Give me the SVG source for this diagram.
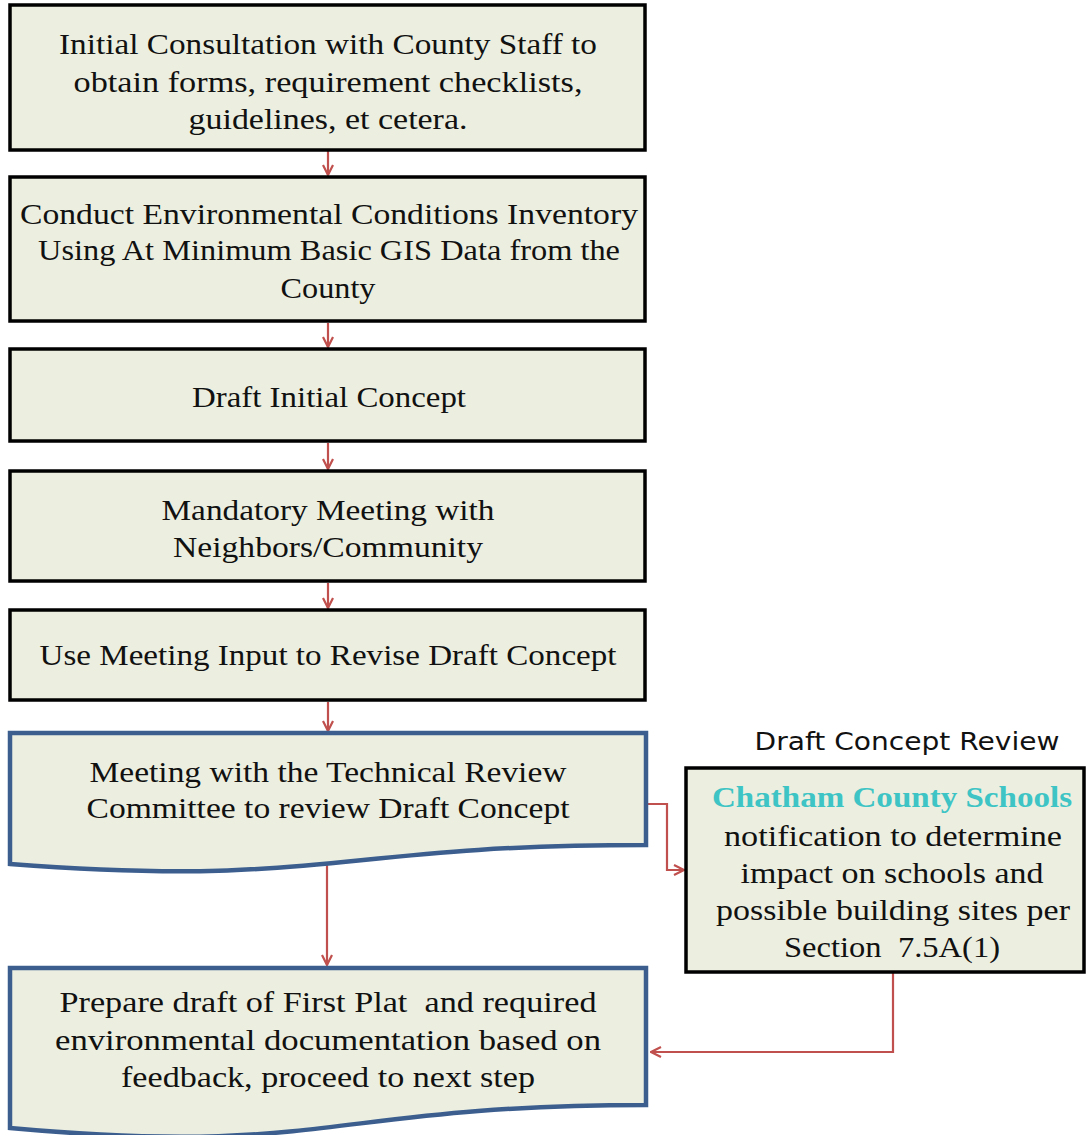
<svg xmlns="http://www.w3.org/2000/svg" width="1089" height="1135" viewBox="0 0 1089 1135">
<defs>
<style>
.box{fill:#ecefe0;stroke:#000;stroke-width:3.5}
.doc{fill:#ecefe0;stroke:#3b5e8f;stroke-width:4.5}
.t{font-family:"Liberation Serif",serif;font-size:30px;fill:#111;text-anchor:middle;white-space:pre}
.s{font-family:"Liberation Serif",serif;font-size:29px;fill:#111;text-anchor:middle;white-space:pre}
.h{font-family:"Liberation Serif",serif;font-size:29px;font-weight:bold;fill:#3ec4c4;text-anchor:middle}
.lbl{font-family:"DejaVu Sans",sans-serif;font-size:24px;fill:#111;text-anchor:middle}
.c{fill:none;stroke:#c0504d;stroke-width:2.2}
</style>
<marker id="ah" viewBox="0 0 12 12" refX="11" refY="6" markerWidth="12" markerHeight="12" markerUnits="userSpaceOnUse" orient="auto">
<path d="M1,1 L11,6 L1,11" fill="none" stroke="#c0504d" stroke-width="2.2"/>
</marker>
</defs>
<rect width="1089" height="1135" fill="#fff"/>
<g id="connectors">
<line class="c" x1="328" y1="151" x2="328" y2="175" marker-end="url(#ah)"/>
<line class="c" x1="328" y1="323" x2="328" y2="347" marker-end="url(#ah)"/>
<line class="c" x1="328" y1="443" x2="328" y2="469" marker-end="url(#ah)"/>
<line class="c" x1="328" y1="583" x2="328" y2="608" marker-end="url(#ah)"/>
<line class="c" x1="328" y1="702" x2="328" y2="731" marker-end="url(#ah)"/>
<line class="c" x1="327" y1="856" x2="327" y2="965" marker-end="url(#ah)"/>
<polyline class="c" points="647,804 667,804 667,870 684,870" marker-end="url(#ah)"/>
<polyline class="c" points="893,973 893,1052 651,1052" marker-end="url(#ah)"/>
</g>
<g id="n1">
<rect class="box" x="10" y="5" width="635" height="145"/>
<text class="t" x="328" y="54" textLength="538" lengthAdjust="spacingAndGlyphs">Initial Consultation with County Staff to</text>
<text class="t" x="328" y="92" textLength="509" lengthAdjust="spacingAndGlyphs">obtain forms, requirement checklists,</text>
<text class="t" x="328" y="129" textLength="279" lengthAdjust="spacingAndGlyphs">guidelines, et cetera.</text>
</g>
<g id="n2">
<rect class="box" x="10" y="177" width="635" height="144"/>
<text class="t" x="329" y="224" textLength="618" lengthAdjust="spacingAndGlyphs">Conduct Environmental Conditions Inventory</text>
<text class="t" x="329" y="260" textLength="582" lengthAdjust="spacingAndGlyphs">Using At Minimum Basic GIS Data from the</text>
<text class="t" x="328" y="298" textLength="95" lengthAdjust="spacingAndGlyphs">County</text>
</g>
<g id="n3">
<rect class="box" x="10" y="349" width="635" height="92"/>
<text class="t" x="329" y="407" textLength="274" lengthAdjust="spacingAndGlyphs">Draft Initial Concept</text>
</g>
<g id="n4">
<rect class="box" x="10" y="471" width="635" height="110"/>
<text class="t" x="328" y="520" textLength="333" lengthAdjust="spacingAndGlyphs">Mandatory Meeting with</text>
<text class="t" x="328" y="557" textLength="310" lengthAdjust="spacingAndGlyphs">Neighbors/Community</text>
</g>
<g id="n5">
<rect class="box" x="10" y="610" width="635" height="90"/>
<text class="t" x="328" y="665" textLength="577" lengthAdjust="spacingAndGlyphs">Use Meeting Input to Revise Draft Concept</text>
</g>
<g id="n6">
<path class="doc" d="M10,733 H646 V845 C328,845 328,888 10,864 Z"/>
<text class="t" x="328" y="782" textLength="477" lengthAdjust="spacingAndGlyphs">Meeting with the Technical Review</text>
<text class="t" x="328" y="818" textLength="483" lengthAdjust="spacingAndGlyphs">Committee to review Draft Concept</text>
</g>
<g id="n7">
<text class="lbl" x="907" y="750" textLength="305" lengthAdjust="spacingAndGlyphs">Draft Concept Review</text>
<rect class="box" x="686" y="768" width="398" height="204"/>
<text class="h" x="892" y="807" textLength="360" lengthAdjust="spacingAndGlyphs">Chatham County Schools</text>
<text class="s" x="893" y="846" textLength="338" lengthAdjust="spacingAndGlyphs">notification to determine</text>
<text class="s" x="892" y="883" textLength="303" lengthAdjust="spacingAndGlyphs">impact on schools and</text>
<text class="s" x="893" y="920" textLength="354" lengthAdjust="spacingAndGlyphs">possible building sites per</text>
<text class="s" x="892" y="957" textLength="216" lengthAdjust="spacingAndGlyphs" xml:space="preserve">Section  7.5A(1)</text>
</g>
<g id="n8">
<path class="doc" d="M10,968 H646 V1105 C328,1105 328,1157 10,1128 Z"/>
<text class="t" x="328" y="1012" textLength="537" lengthAdjust="spacingAndGlyphs" xml:space="preserve">Prepare draft of First Plat  and required</text>
<text class="t" x="328" y="1050" textLength="546" lengthAdjust="spacingAndGlyphs">environmental documentation based on</text>
<text class="t" x="328" y="1087" textLength="414" lengthAdjust="spacingAndGlyphs">feedback, proceed to next step</text>
</g>
</svg>
